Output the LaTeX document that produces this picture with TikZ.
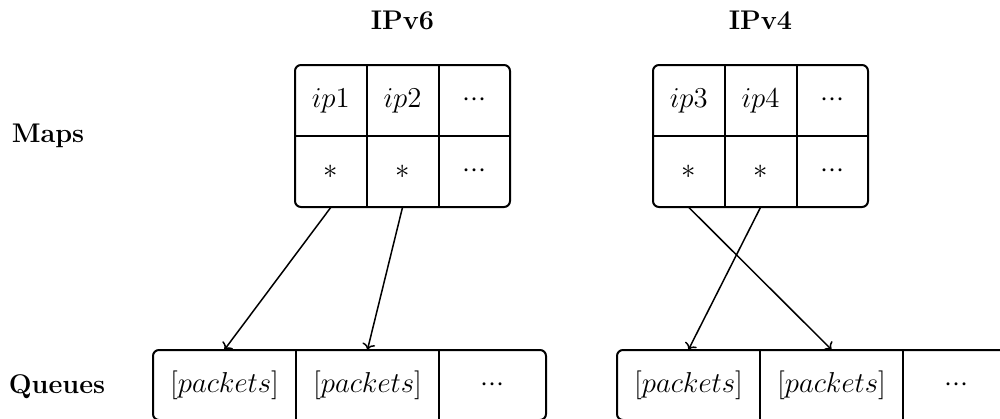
\documentclass[tikz,border=0pt]{standalone}
\usetikzlibrary{arrows.meta}
\begin{document}
\begin{tikzpicture}[x=0.5pt,y=-0.5pt,
  every node/.style={font=\fontsize{14}{17}\selectfont},
  lab/.style={font=\fontsize{13.5}{16}\selectfont\bfseries,anchor=base},
  frame/.style={draw,line width=1pt,rounded corners=3pt,inner sep=0pt},
  mapcell/.style={inner sep=0pt,minimum width=35.83pt,minimum height=35.5pt},
  qcell/.style={inner sep=0pt,minimum height=35pt},
  wide/.style={qcell,minimum width=71.5pt},
  narrow/.style={qcell,minimum width=53.5pt},
  grid/.style={line width=1pt},
  link/.style={line width=0.75pt,-{To[length=3pt,width=6.5pt]}}]
\useasboundingbox (0,0) rectangle (1000,418);

% column and row headings
\node[lab] (t6) at (402.5,29) {IPv6};
\node[lab] (t4) at (760.5,29) {IPv4};
\node[lab] (maps) at (48,142) {Maps};
\node[lab] (queues) at (57,393) {Queues};

% IPv6 map
\node[frame,minimum width=107.5pt,minimum height=71pt] (m6) at (402.5,136) {};
\node[mapcell] (m6-11) at (330.8,100.5) {$ip1$};
\node[mapcell] (m6-12) at (402.5,100.5) {$ip2$};
\node[mapcell] (m6-13) at (474.2,100.5) {${\cdot}{\cdot}{\cdot}$};
\node[mapcell] (m6-21) at (330.8,171.5) {$*$};
\node[mapcell] (m6-22) at (402.5,171.5) {$*$};
\node[mapcell] (m6-23) at (474.2,171.5) {${\cdot}{\cdot}{\cdot}$};
\draw[grid] (m6-11.south west) -- (m6-13.south east);
\draw[grid] (m6-11.north east) -- (m6-21.south east);
\draw[grid] (m6-12.north east) -- (m6-22.south east);

% IPv4 map
\node[frame,minimum width=107.5pt,minimum height=71pt] (m4) at (760.5,136) {};
\node[mapcell] (m4-11) at (688.8,100.5) {$ip3$};
\node[mapcell] (m4-12) at (760.5,100.5) {$ip4$};
\node[mapcell] (m4-13) at (832.2,100.5) {${\cdot}{\cdot}{\cdot}$};
\node[mapcell] (m4-21) at (688.8,171.5) {$*$};
\node[mapcell] (m4-22) at (760.5,171.5) {$*$};
\node[mapcell] (m4-23) at (832.2,171.5) {${\cdot}{\cdot}{\cdot}$};
\draw[grid] (m4-11.south west) -- (m4-13.south east);
\draw[grid] (m4-11.north east) -- (m4-21.south east);
\draw[grid] (m4-12.north east) -- (m4-22.south east);

% IPv6 queues
\node[frame,minimum width=196.5pt,minimum height=35pt] (q6) at (349.5,385) {};
\node[wide] (q6-1) at (224.5,385) {$[packets]$};
\node[wide] (q6-2) at (367.5,385) {$[packets]$};
\node[narrow] (q6-3) at (492.5,385) {${\cdot}{\cdot}{\cdot}$};
\draw[grid] (q6-1.north east) -- (q6-1.south east);
\draw[grid] (q6-2.north east) -- (q6-2.south east);

% IPv4 queues
\node[frame,minimum width=196.5pt,minimum height=35pt] (q4) at (813.5,385) {};
\node[wide] (q4-1) at (688.5,385) {$[packets]$};
\node[wide] (q4-2) at (831.5,385) {$[packets]$};
\node[narrow] (q4-3) at (956.5,385) {${\cdot}{\cdot}{\cdot}$};
\draw[grid] (q4-1.north east) -- (q4-1.south east);
\draw[grid] (q4-2.north east) -- (q4-2.south east);

% map entries pointing to their queues
\draw[link] (m6-21.south) -- (q6-1.north);
\draw[link] (m6-22.south) -- (q6-2.north);
\draw[link] (m4-21.south) -- (q4-2.north);
\draw[link] (m4-22.south) -- (q4-1.north);
\end{tikzpicture}
\end{document}
